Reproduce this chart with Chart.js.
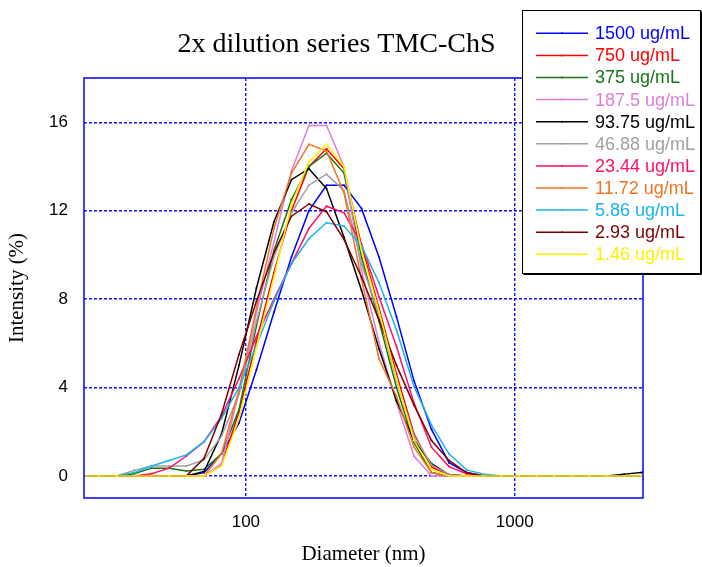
<!DOCTYPE html>
<html>
<head>
<meta charset="utf-8">
<script src="https://cdn.jsdelivr.net/npm/chart.js@4.4.0/dist/chart.umd.min.js"></script>
<style>
html,body{margin:0;padding:0;background:#fff;}
#wrap{width:702px;height:567px;position:relative;}
canvas{display:block;}
</style>
</head>
<body>
<div id="wrap"><canvas id="c" width="702" height="567"></canvas></div>
<script>
const chartTitle = '2x dilution series TMC-ChS';
const xTitle = 'Diameter (nm)';
const yTitle = 'Intensity (%)';
const xTicks = [100, 1000];
const yTicks = [0, 4, 8, 12, 16];

// size bins (nm)
const diameters = [24.5, 28.4, 33.0, 38.4, 44.6, 51.8, 60.1, 69.9, 81.2, 94.3, 109.5, 127.2, 147.8, 171.7, 199.5, 231.7, 269.2, 312.7, 363.3, 422.1, 490.3, 569.6, 661.7, 768.7, 893.1, 1037.5, 1205, 1400, 1627, 1890, 2195, 2551, 2963, 3442];

const labels = ['1500 ug/mL', '750 ug/mL', '375 ug/mL', '187.5 ug/mL', '93.75 ug/mL', '46.88 ug/mL', '23.44 ug/mL', '11.72 ug/mL', '5.86 ug/mL', '2.93 ug/mL', '1.46 ug/mL'];

const s1500 = [0,0,0,0,0,0,0, 0.15,1.0,2.4,4.8,7.4,9.9,12.0,13.15,13.15,12.1,9.9,7.2,4.3,2.1,0.6,0.15, 0,0,0,0,0,0,0,0,0,0,0];
const s750  = [0,0,0,0,0,0,0,0, 0.5,2.9,6.1,9.2,12.0,14.0,14.8,13.9,10.4,7.6,4.6,1.9,0.4,0.05, 0,0,0,0,0,0,0,0,0,0,0,0];
const s375  = [0,0,0,0.1,0.35,0.35,0.22,0.3,1.0,3.0,6.8,10.2,12.5,14.0,14.6,13.7,9.9,7.0,4.0,1.5,0.15, 0,0,0,0,0,0,0,0,0,0,0,0,0];
const s187  = [0,0,0,0,0,0,0,0, 0.55,3.8,7.4,10.6,13.8,15.85,15.85,14.0,9.3,6.05,3.3,0.9, 0,0,0,0,0,0,0,0,0,0,0,0,0,0];
const s93   = [0,0,0,0,0,0,0, 0.2,1.9,5.0,8.5,11.5,13.4,13.9,13.0,10.8,8.4,5.75,3.4,1.6,0.55,0.05, 0,0,0,0,0,0,0,0,0, 0.08,0.15,0.2];
const s46   = [0,0,0,0.25,0.45,0.45,0.45,0.72,1.8,3.7,7.0,9.9,11.9,13.15,13.65,12.9,9.6,7.3,4.3,1.8,0.5,0.05, 0,0,0,0,0,0,0,0,0,0,0,0];
const s23   = [0,0,0,0, 0.1,0.35,0.9,1.55,2.7,4.4,6.3,8.0,9.6,11.2,12.2,11.9,10.5,8.1,5.85,3.3,1.3,0.42,0.1, 0,0,0,0,0,0,0,0,0,0,0];
const s11   = [0,0,0,0,0,0,0,0, 1.0,3.9,7.6,11.2,13.7,15.0,14.7,12.8,8.9,5.3,3.6,1.3,0.15, 0,0,0,0,0,0,0,0,0,0,0,0,0];
const s5    = [0,0,0,0.15,0.45,0.7,0.95,1.55,2.6,4.0,5.9,7.9,9.6,10.74,11.45,11.3,10.4,8.75,6.6,4.05,2.3,1.0,0.27,0.08, 0,0,0,0,0,0,0,0,0,0];
const s2    = [0,0,0,0,0,0,0, 0.8,2.8,5.5,7.9,10.1,11.75,12.3,11.95,10.7,9.0,7.05,5.0,3.2,1.6,0.7,0.15, 0,0,0,0,0,0,0,0,0,0,0];
const s1    = [0,0,0,0,0,0,0,0, 0.45,2.6,5.8,9.0,12.3,14.2,15.0,14.0,10.2,7.45,4.4,1.6,0.3, 0,0,0,0,0,0,0,0,0,0,0,0,0];

const seriesValues = [s1500, s750, s375, s187, s93, s46, s23, s11, s5, s2, s1];
const colors = ['#0000FF', '#FF0000', '#167516', '#DA80DA', '#000000', '#A0A0A0', '#FF1068', '#F47321', '#18B4EE', '#800000', '#FFF000'];

const datasets = seriesValues.map((vals, i) => ({
  label: labels[i],
  data: vals.map((v, j) => ({x: diameters[j], y: v})),
  borderColor: colors[i],
  backgroundColor: colors[i],
  borderWidth: 1.5,
  pointRadius: 1,
  pointBorderWidth: 0,
  pointHoverRadius: 1,
  tension: 0,
  fill: false,
  order: seriesValues.length - i
}));

const decor = {
  id: 'decor',
  afterDraw(chart) {
    const {ctx, chartArea: a} = chart;
    ctx.save();
    // plot frame
    ctx.strokeStyle = '#0000FF';
    ctx.lineWidth = 1.5;
    ctx.strokeRect(a.left, a.top, a.right - a.left, a.bottom - a.top);
    // title
    ctx.fillStyle = '#000';
    ctx.font = '28px "Liberation Serif", "Times New Roman", serif';
    ctx.textAlign = 'center';
    ctx.textBaseline = 'alphabetic';
    ctx.fillText(chartTitle, 336.5, 52);
    // legend box
    const bx = 522.5, by = 10.5, bw = 178, bh = 263;
    ctx.fillStyle = '#fff';
    ctx.fillRect(bx, by, bw, bh);
    ctx.strokeStyle = '#000';
    ctx.lineWidth = 1;
    ctx.strokeRect(bx, by, bw, bh);
    ctx.beginPath();
    ctx.moveTo(bx + 1, by + bh + 1); ctx.lineTo(bx + bw + 1, by + bh + 1);
    ctx.lineTo(bx + bw + 1, by + 1);
    ctx.stroke();
    ctx.font = '18px "Liberation Sans", Arial, sans-serif';
    ctx.textAlign = 'left';
    ctx.textBaseline = 'middle';
    labels.forEach((lab, i) => {
      const y = 33.3 + 22.1 * i;
      ctx.strokeStyle = colors[i];
      ctx.lineWidth = 1.5;
      ctx.beginPath();
      ctx.moveTo(536, y); ctx.lineTo(588, y);
      ctx.stroke();
      ctx.fillStyle = colors[i];
      ctx.beginPath();
      ctx.arc(562, y, 1, 0, Math.PI * 2);
      ctx.fill();
      ctx.fillText(lab, 595, y + 1);
    });
    ctx.restore();
  }
};

new Chart(document.getElementById('c'), {
  type: 'line',
  data: { datasets },
  plugins: [decor],
  options: {
    responsive: false,
    animation: false,
    devicePixelRatio: 1,
    layout: { padding: { top: 78, right: 59, left: 0, bottom: 0 } },
    plugins: {
      legend: { display: false },
      title: { display: false },
      tooltip: { enabled: false }
    },
    scales: {
      x: {
        type: 'logarithmic',
        min: 25,
        max: 3000,
        afterFit: s => { s.height = 69; },
        afterBuildTicks: s => { s.ticks = xTicks.map(v => ({value: v})); },
        ticks: {
          color: '#000',
          font: { family: '"Liberation Sans", Arial, sans-serif', size: 17 },
          padding: 14,
          maxRotation: 0,
          autoSkip: false,
          callback: v => String(v)
        },
        grid: { color: '#1010FF', lineWidth: 1.4, drawTicks: false },
        border: { display: false, dash: [3, 2] },
        title: {
          display: true, text: xTitle, color: '#000',
          font: { family: '"Liberation Serif", "Times New Roman", serif', size: 21 },
          padding: { top: 0, bottom: 0 }
        }
      },
      y: {
        min: -1,
        max: 18,
        afterFit: s => { s.width = 84; },
        afterBuildTicks: s => { s.ticks = yTicks.map(v => ({value: v})); },
        ticks: {
          color: '#000',
          font: { family: '"Liberation Sans", Arial, sans-serif', size: 17 },
          padding: 16,
          autoSkip: false
        },
        grid: { color: '#1010FF', lineWidth: 1.4, drawTicks: false },
        border: { display: false, dash: [3, 2] },
        title: {
          display: true, text: yTitle, color: '#000',
          font: { family: '"Liberation Serif", "Times New Roman", serif', size: 21 },
          padding: { top: 5, bottom: 0 }
        }
      }
    }
  }
});
</script>
</body>
</html>
